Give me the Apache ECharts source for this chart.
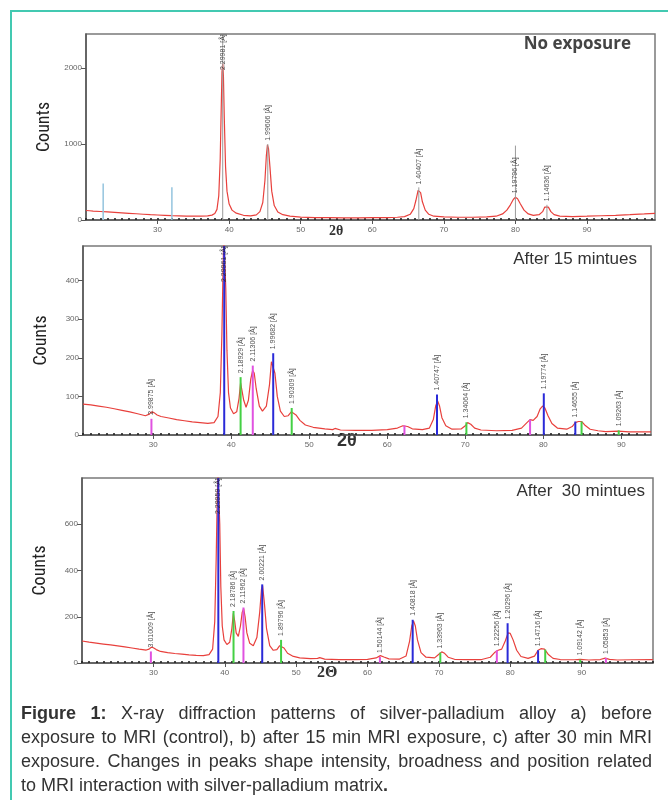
<!DOCTYPE html>
<html><head><meta charset="utf-8">
<script src="https://cdn.jsdelivr.net/npm/echarts@6/dist/echarts.min.js"></script>
<style>
html,body{margin:0;padding:0;background:#fff;}
#wrap{position:relative;width:668px;height:800px;overflow:hidden;background:#fff;}
#frame{position:absolute;left:10px;top:10px;width:700px;height:820px;border-left:2px solid #43c9b1;border-top:2px solid #43c9b1;}
#chart{position:absolute;left:0;top:0;width:668px;height:800px;}
#cap{position:absolute;left:21px;top:701px;width:631px;font-family:"Liberation Sans",Arial,sans-serif;font-size:18px;line-height:24px;color:#333;}
#cap div{text-align:justify;text-align-last:justify;white-space:nowrap;}
#cap div.last{text-align-last:left;}
</style></head>
<body><div id="wrap"><div id="frame"></div><div id="chart"></div>
<div id="cap">
<div><b>Figure 1:</b> X-ray diffraction patterns of silver-palladium alloy a) before</div>
<div>exposure to MRI (control), b) after 15 min MRI exposure, c) after 30 min MRI</div>
<div>exposure. Changes in peaks shape intensity, broadness and position related</div>
<div class="last">to MRI interaction with silver-palladium matrix<b>.</b></div>
</div></div>
<script>
// ---------- DATA ----------
const xTickLabels = [30, 40, 50, 60, 70, 80, 90];
const p1YTicks = [0, 1000, 2000];
const p2YTicks = [0, 100, 200, 300, 400];
const p3YTicks = [0, 200, 400, 600];

// Panel a) No exposure
const p1Curve = [[20,125],[20.5,122],[21,118],[22,112],[23,106],[24,100],[25,94],[26,88],[27,82],[28,76],[29,70],[30,66],[31,62],[32,58],[33,55],[34,52],[35,50],[36,50],[37,54],[37.6,64],[38.0,85],[38.3,140],[38.55,320],[38.75,800],[38.9,1500],[39.0,1950],[39.1,2060],[39.2,1900],[39.32,1350],[39.5,700],[39.7,380],[40.0,210],[40.4,130],[41,90],[42,62],[43,55],[43.8,68],[44.3,110],[44.7,230],[45.0,520],[45.2,850],[45.35,990],[45.5,940],[45.7,700],[45.95,380],[46.3,190],[46.8,105],[47.5,70],[48.5,50],[50,38],[52,32],[54,30],[56,28],[58,28],[60,30],[62,32],[63.5,36],[64.5,45],[65.3,75],[65.8,150],[66.1,260],[66.4,390],[66.55,415],[66.75,360],[67.0,240],[67.4,130],[67.9,75],[68.6,50],[70,40],[72,36],[74,36],[76,40],[77.3,50],[78.2,80],[78.8,130],[79.3,200],[79.7,270],[80.0,300],[80.3,280],[80.7,210],[81.2,130],[81.8,80],[82.5,60],[83.3,70],[83.8,110],[84.1,170],[84.35,195],[84.6,170],[84.95,110],[85.4,70],[86.2,50],[88,45],[90,50],[92,56],[94,62],[96,70],[98,80],[99.5,88]];
const p1StickX = [22.4, 32.0, 39.1, 45.4, 66.5, 80.0, 84.4];
const p1StickH = [480, 430, 2450, 1000, 430, 980, 200];
const p1StickType = ['lb', 'lb', 'gr', 'gr', 'gr', 'gr', 'gr'];
const p1LabelX = [39.1, 45.4, 66.5, 80.0, 84.4];
const p1LabelH = [2060, 990, 415, 300, 195];
const p1Labels = ['2.29981 [Å]', '1.99606 [Å]', '1.40407 [Å]', '1.19796 [Å]', '1.14636 [Å]'];

// Panel b) After 15 minutes
const p2Curve = [[21,80],[22,78],[23,75],[24,72],[25,68],[26,64],[27,60],[28,55],[29,50],[29.5,54],[29.8,60],[30.1,58],[30.5,52],[31,48],[32,44],[33,40],[34,37],[35,34],[36,32],[37,30],[37.8,32],[38.3,48],[38.6,110],[38.8,260],[38.95,430],[39.05,520],[39.15,520],[39.3,380],[39.45,220],[39.65,110],[39.9,70],[40.3,55],[40.7,60],[41.0,95],[41.2,135],[41.35,130],[41.6,90],[41.9,72],[42.2,90],[42.5,145],[42.75,168],[42.95,160],[43.2,120],[43.6,75],[44.0,62],[44.5,75],[44.9,130],[45.15,190],[45.35,195],[45.6,160],[45.9,100],[46.3,62],[46.8,48],[47.3,50],[47.7,60],[47.95,62],[48.3,52],[48.8,38],[49.5,26],[50.5,20],[52,16],[53,14],[53.3,17],[54,13],[56,12],[58,12],[60,14],[61.3,18],[62,24],[62.6,22],[63.2,16],[64.5,14],[65.4,18],[65.9,40],[66.2,75],[66.45,88],[66.7,75],[67.0,45],[67.5,24],[68.3,15],[69.5,16],[70.0,24],[70.3,32],[70.7,28],[71.2,18],[72,13],[74,11],[76,12],[77.2,18],[77.9,32],[78.3,40],[78.7,38],[79.2,48],[79.6,68],[79.9,75],[80.2,70],[80.6,50],[81.1,30],[81.8,18],[83,15],[83.7,22],[84.1,32],[84.5,35],[84.9,35],[85.3,26],[86,15],[87,11],[88,9],[89.6,10],[91,8],[93.8,8]];
const p2StickX = [29.77, 39.10, 41.20, 42.76, 45.38, 47.75, 62.2, 66.37, 70.14, 78.3, 80.06, 84.1, 84.9, 89.66];
const p2StickH = [42, 520, 150, 180, 212, 70, 25, 105, 33, 40, 108, 35, 35, 12];
const p2StickType = ['m', 'b', 'g', 'm', 'b', 'g', 'm', 'b', 'g', 'm', 'b', 'b', 'g', 'g'];
const p2Labels = ['2.99875 [Å]', '2.29961 [Å]', '2.18929 [Å]', '2.11306 [Å]', '1.99682 [Å]', '1.90309 [Å]', '', '1.40747 [Å]', '1.34064 [Å]', '', '1.19774 [Å]', '1.14655 [Å]', '', '1.09263 [Å]'];

// Panel c) After 30 minutes
const p3Curve = [[20,95],[21,90],[22,86],[23,82],[24,78],[25,74],[26,70],[27,65],[28,60],[29,56],[29.4,60],[29.7,68],[30.0,66],[30.4,58],[31,50],[32,45],[33,41],[34,38],[35,35],[36,33],[37,32],[37.8,36],[38.3,60],[38.6,180],[38.8,450],[38.95,720],[39.05,820],[39.15,820],[39.3,600],[39.45,330],[39.65,160],[39.9,100],[40.3,80],[40.7,90],[41.0,150],[41.2,215],[41.4,180],[41.6,130],[41.9,115],[42.2,160],[42.45,220],[42.65,235],[42.85,200],[43.1,130],[43.5,85],[44.0,75],[44.5,110],[44.9,220],[45.15,320],[45.3,335],[45.55,260],[45.85,150],[46.3,75],[46.8,55],[47.3,58],[47.7,75],[47.95,82],[48.3,65],[48.8,42],[49.5,30],[50.5,22],[52,19],[53,20],[53.3,23],[54,17],[56,15],[58,15],[60,16],[61.2,22],[61.8,32],[62.3,26],[63,18],[64.5,17],[65.4,30],[65.9,95],[66.2,160],[66.45,182],[66.7,160],[67.0,100],[67.5,45],[68.2,25],[69.4,22],[70.0,38],[70.4,48],[70.8,42],[71.3,25],[72.2,16],[74,15],[76,15],[77.2,25],[77.8,45],[78.3,55],[78.8,60],[79.3,95],[79.7,130],[80.0,128],[80.4,100],[80.9,55],[81.5,28],[82.5,20],[83.4,30],[83.9,55],[84.3,62],[84.8,60],[85.3,38],[86,20],[87,15],[89,14],[89.8,16],[91,13],[92.6,15],[93.3,21],[93.9,16],[95,13],[97,14],[100,15]];
const p3StickX = [29.65, 39.10, 41.23, 42.62, 45.25, 47.89, 61.74, 66.33, 70.20, 78.12, 79.63, 83.9, 84.9, 89.80, 93.40];
const p3StickH = [50, 850, 225, 240, 340, 100, 26, 187, 45, 55, 172, 55, 58, 15, 22];
const p3StickType = ['m', 'b', 'g', 'm', 'b', 'g', 'm', 'b', 'g', 'm', 'b', 'b', 'g', 'g', 'm'];
const p3Labels = ['3.01009 [Å]', '2.29959 [Å]', '2.18786 [Å]', '2.11962 [Å]', '2.00221 [Å]', '1.89796 [Å]', '1.50144 [Å]', '1.40818 [Å]', '1.33963 [Å]', '1.22256 [Å]', '1.20296 [Å]', '1.14716 [Å]', '', '1.09142 [Å]', '1.05853 [Å]'];

// ---------- STYLE / LAYOUT ----------
const stickColor = { b: '#2a2ad8', g: '#44d044', m: '#e052e0', gr: '#9a9a9a', lb: '#94c4de' };
const stickWidth = { b: 2, g: 2, m: 2, gr: 1, lb: 1.5 };
const panels = [
  { grid: { left: 86, top: 34, width: 569, height: 186 }, xmin: 20, xmax: 99.5, ymax: 2450, yTicks: p1YTicks,
    curve: p1Curve, sx: p1StickX, sh: p1StickH, st: p1StickType, lx: p1LabelX, lh: p1LabelH, lt: p1Labels },
  { grid: { left: 83, top: 246, width: 568, height: 189 }, xmin: 21, xmax: 93.8, ymax: 490, yTicks: p2YTicks,
    curve: p2Curve, sx: p2StickX, sh: p2StickH, st: p2StickType, lx: p2StickX, lh: p2StickH, lt: p2Labels },
  { grid: { left: 82, top: 478, width: 571, height: 185 }, xmin: 20, xmax: 100, ymax: 800, yTicks: p3YTicks,
    curve: p3Curve, sx: p3StickX, sh: p3StickH, st: p3StickType, lx: p3StickX, lh: p3StickH, lt: p3Labels }
];

const grids = [], xAxes = [], yAxes = [], series = [];
panels.forEach((p, i) => {
  grids.push(Object.assign({ show: true, borderColor: '#7a7a7a', borderWidth: 1.5, backgroundColor: 'transparent' }, p.grid));
  const minor = [];
  for (let v = Math.ceil(p.xmin); v <= p.xmax; v++) minor.push(v);
  xAxes.push({
    type: 'value', gridIndex: i, min: p.xmin, max: p.xmax,
    axisLine: { show: true, lineStyle: { color: '#555', width: 1.5 } },
    axisTick: { show: true, customValues: xTickLabels, length: 4, lineStyle: { color: '#555' } },
    axisLabel: { customValues: xTickLabels, fontSize: 8, color: '#666', margin: 6, fontFamily: 'Liberation Sans, Arial, sans-serif' },
    splitLine: { show: false }
  });
  xAxes.push({
    type: 'value', gridIndex: i, min: p.xmin, max: p.xmax, position: 'bottom',
    axisLine: { show: false },
    axisTick: { show: true, customValues: minor, inside: true, length: 2, lineStyle: { color: '#222', width: 1.6 } },
    axisLabel: { show: false }, splitLine: { show: false }
  });
  yAxes.push({
    type: 'value', gridIndex: i, min: 0, max: p.ymax,
    axisLine: { show: true, lineStyle: { color: '#555', width: 1.5 } },
    axisTick: { show: true, customValues: p.yTicks, length: 5, lineStyle: { color: '#555' } },
    axisLabel: { customValues: p.yTicks, formatter: v => String(v), fontSize: 8, color: '#666', margin: 4, fontFamily: 'Liberation Sans, Arial, sans-serif' },
    splitLine: { show: false },
    name: 'Counts', nameLocation: 'middle', nameGap: 33,
    nameTextStyle: { fontSize: 18, color: '#222', fontFamily: '"Liberation Sans Narrow", "Roboto Condensed", "Liberation Sans", Arial, sans-serif' }
  });
  series.push({
    type: 'line', xAxisIndex: i * 2, yAxisIndex: i, data: p.curve, showSymbol: false, clip: true,
    lineStyle: { color: '#e8403c', width: 1.2 }, z: 3, silent: true
  });
  const ymax = p.ymax;
  const sdata = p.sx.map((x, k) => [x, p.sh[k], k]);
  const types = p.st;
  series.push({
    type: 'custom', xAxisIndex: i * 2, yAxisIndex: i, data: sdata, z: 4, silent: true, clip: true,
    renderItem: function (params, api) {
      const x = api.value(0), h = Math.min(api.value(1), ymax), k = api.value(2);
      const a = api.coord([x, 0]), b = api.coord([x, h]);
      const t = types[k];
      return { type: 'line', shape: { x1: a[0], y1: a[1], x2: b[0], y2: b[1] },
        style: { stroke: stickColor[t], lineWidth: stickWidth[t] } };
    }
  });
  const capVal = ymax * (1 - 40 / p.grid.height);
  const ldata = [];
  p.lx.forEach((x, k) => { if (p.lt[k]) ldata.push({ value: [x, Math.min(p.lh[k], capVal)], name: p.lt[k] }); });
  series.push({
    type: 'scatter', xAxisIndex: i * 2, yAxisIndex: i, data: ldata, symbolSize: 0, z: 5, silent: true,
    label: { show: true, position: 'top', distance: 4, rotate: 90, align: 'left', verticalAlign: 'middle',
      formatter: '{b}', fontSize: 7, color: '#222', fontFamily: 'Liberation Sans, Arial, sans-serif' }
  });
});

const chart = echarts.init(document.getElementById('chart'), null, { renderer: 'canvas' });
chart.setOption({
  animation: false,
  backgroundColor: 'transparent',
  grid: grids, xAxis: xAxes, yAxis: yAxes, series: series,
  graphic: [
    { type: 'text', right: 668 - 631, top: 36, style: { text: 'No exposure', fontSize: 17, fontWeight: 'bold', fill: '#444', fontFamily: '"Open Sans", "Liberation Sans", sans-serif' } },
    { type: 'text', right: 668 - 637, top: 251, style: { text: 'After 15 mintues', fontSize: 17, fill: '#333', fontFamily: '"Liberation Sans", Arial, sans-serif' } },
    { type: 'text', right: 668 - 645, top: 483, style: { text: 'After  30 mintues', fontSize: 17, fill: '#333', fontFamily: '"Liberation Sans", Arial, sans-serif' } },
    { type: 'text', left: 329, top: 224, style: { text: '2θ', fontSize: 14, fontWeight: 'bold', fill: '#333', fontFamily: '"Liberation Serif", serif' } },
    { type: 'text', left: 337, top: 432, style: { text: '2θ', fontSize: 18, fontWeight: 'bold', fill: '#333', fontFamily: '"Liberation Sans", Arial, sans-serif' } },
    { type: 'text', left: 317, top: 665, style: { text: '2Θ', fontSize: 16, fontWeight: 'bold', fill: '#333', fontFamily: '"Liberation Serif", serif' } }
  ]
});
</script></body></html>
